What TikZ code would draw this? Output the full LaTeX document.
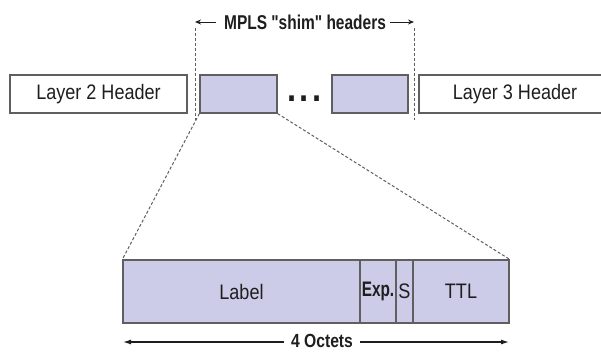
\documentclass[tikz,border=0pt]{standalone}
\usepackage{fontspec}
\usepackage{graphicx}
\setmainfont{Liberation Sans}[FakeStretch=0.86]
\newfontfamily\plainquote{Liberation Sans}[FakeStretch=0.86]
\usetikzlibrary{arrows.meta}
\definecolor{shim}{RGB}{204,204,232}
\definecolor{edge}{RGB}{95,95,95}
\definecolor{txt}{RGB}{30,30,30}
\newcommand{\sq}{{\plainquote\bfseries"}}
\begin{document}
\begin{tikzpicture}[x=1pt,y=-1pt,
  box/.style={draw=edge,line width=1.3pt,minimum height=38pt,inner sep=0pt,text=txt,font=\fontsize{21}{24}\selectfont},
  shimbox/.style={box,fill=shim},
  field/.style={draw=edge,line width=1.3pt,fill=shim,minimum height=63pt,inner sep=0pt,text=txt,font=\fontsize{21}{24}\selectfont},
  guide/.style={draw=edge,line width=1pt,dash pattern=on 3pt off 2pt},
  boldtext/.style={text=txt,font=\fontsize{20}{24}\selectfont\bfseries},
  ]
\useasboundingbox (0,0) rectangle (601,351);
% top row
\node[box,minimum width=177pt] (l2) at (98.5,94) {Layer 2 Header};
\node[shimbox,minimum width=77pt] (s1) at (238.5,94) {};
\node[shimbox,minimum width=76pt] (s2) at (370,94) {};
\node[box,minimum width=192pt] (l3) at (515,94) {Layer 3 Header};
\node[text=txt,font=\fontsize{38}{38}\selectfont\bfseries,anchor=base,inner sep=0pt] (dots) at (304.5,101) {.\kern3.5pt.\kern3.5pt.};
% guides
\coordinate (g1t) at (195,28); \coordinate (g1b) at (195,120);
\coordinate (g2t) at (414,28); \coordinate (g2b) at (414,120);
\draw[guide] (g1t) -- (g1b);
\draw[guide] (g2t) -- (g2b);
% title
\node[boldtext,inner sep=0pt] (title) at (305,22) {\scalebox{0.9}[1]{MPLS \sq shim\sq\ headers}};
\coordinate (a1) at (195,22); \coordinate (a2) at (414,22);
\draw[txt,line width=1pt,-{Stealth[length=6pt,width=5pt]}] ([xshift=-8pt]title.west) -- (a1);
\draw[txt,line width=1pt,-{Stealth[length=6pt,width=5pt]}] ([xshift=4pt]title.east) -- (a2);
% bottom fields
\node[field,minimum width=237pt] (label) at (241.5,291.5) {Label};
\node[field,minimum width=36pt] (exp) at (378,291.5) {\scalebox{0.85}[1]{\bfseries Exp.}};
\node[field,minimum width=17pt] (sbit) at (404.5,291.5) {S};
\node[field,minimum width=96pt] (ttl) at (461,291.5) {TTL};
% zoom lines
\draw[guide] (s1.south west) -- (label.north west);
\draw[guide] (s1.south east) -- (ttl.north east);
% 4 octets
\coordinate (o1) at (123,342); \coordinate (o2) at (509,342);
\draw[txt,line width=1.2pt,{Latex[length=8pt,width=5pt]}-{Latex[length=8pt,width=5pt]}] (o1) -- (o2);
\node[text=txt,font=\fontsize{19}{22}\selectfont\bfseries,fill=white,inner xsep=7pt,inner ysep=0pt,anchor=base] (oct) at (322,347) {\scalebox{0.96}[1]{4 Octets}};
\end{tikzpicture}
\end{document}
